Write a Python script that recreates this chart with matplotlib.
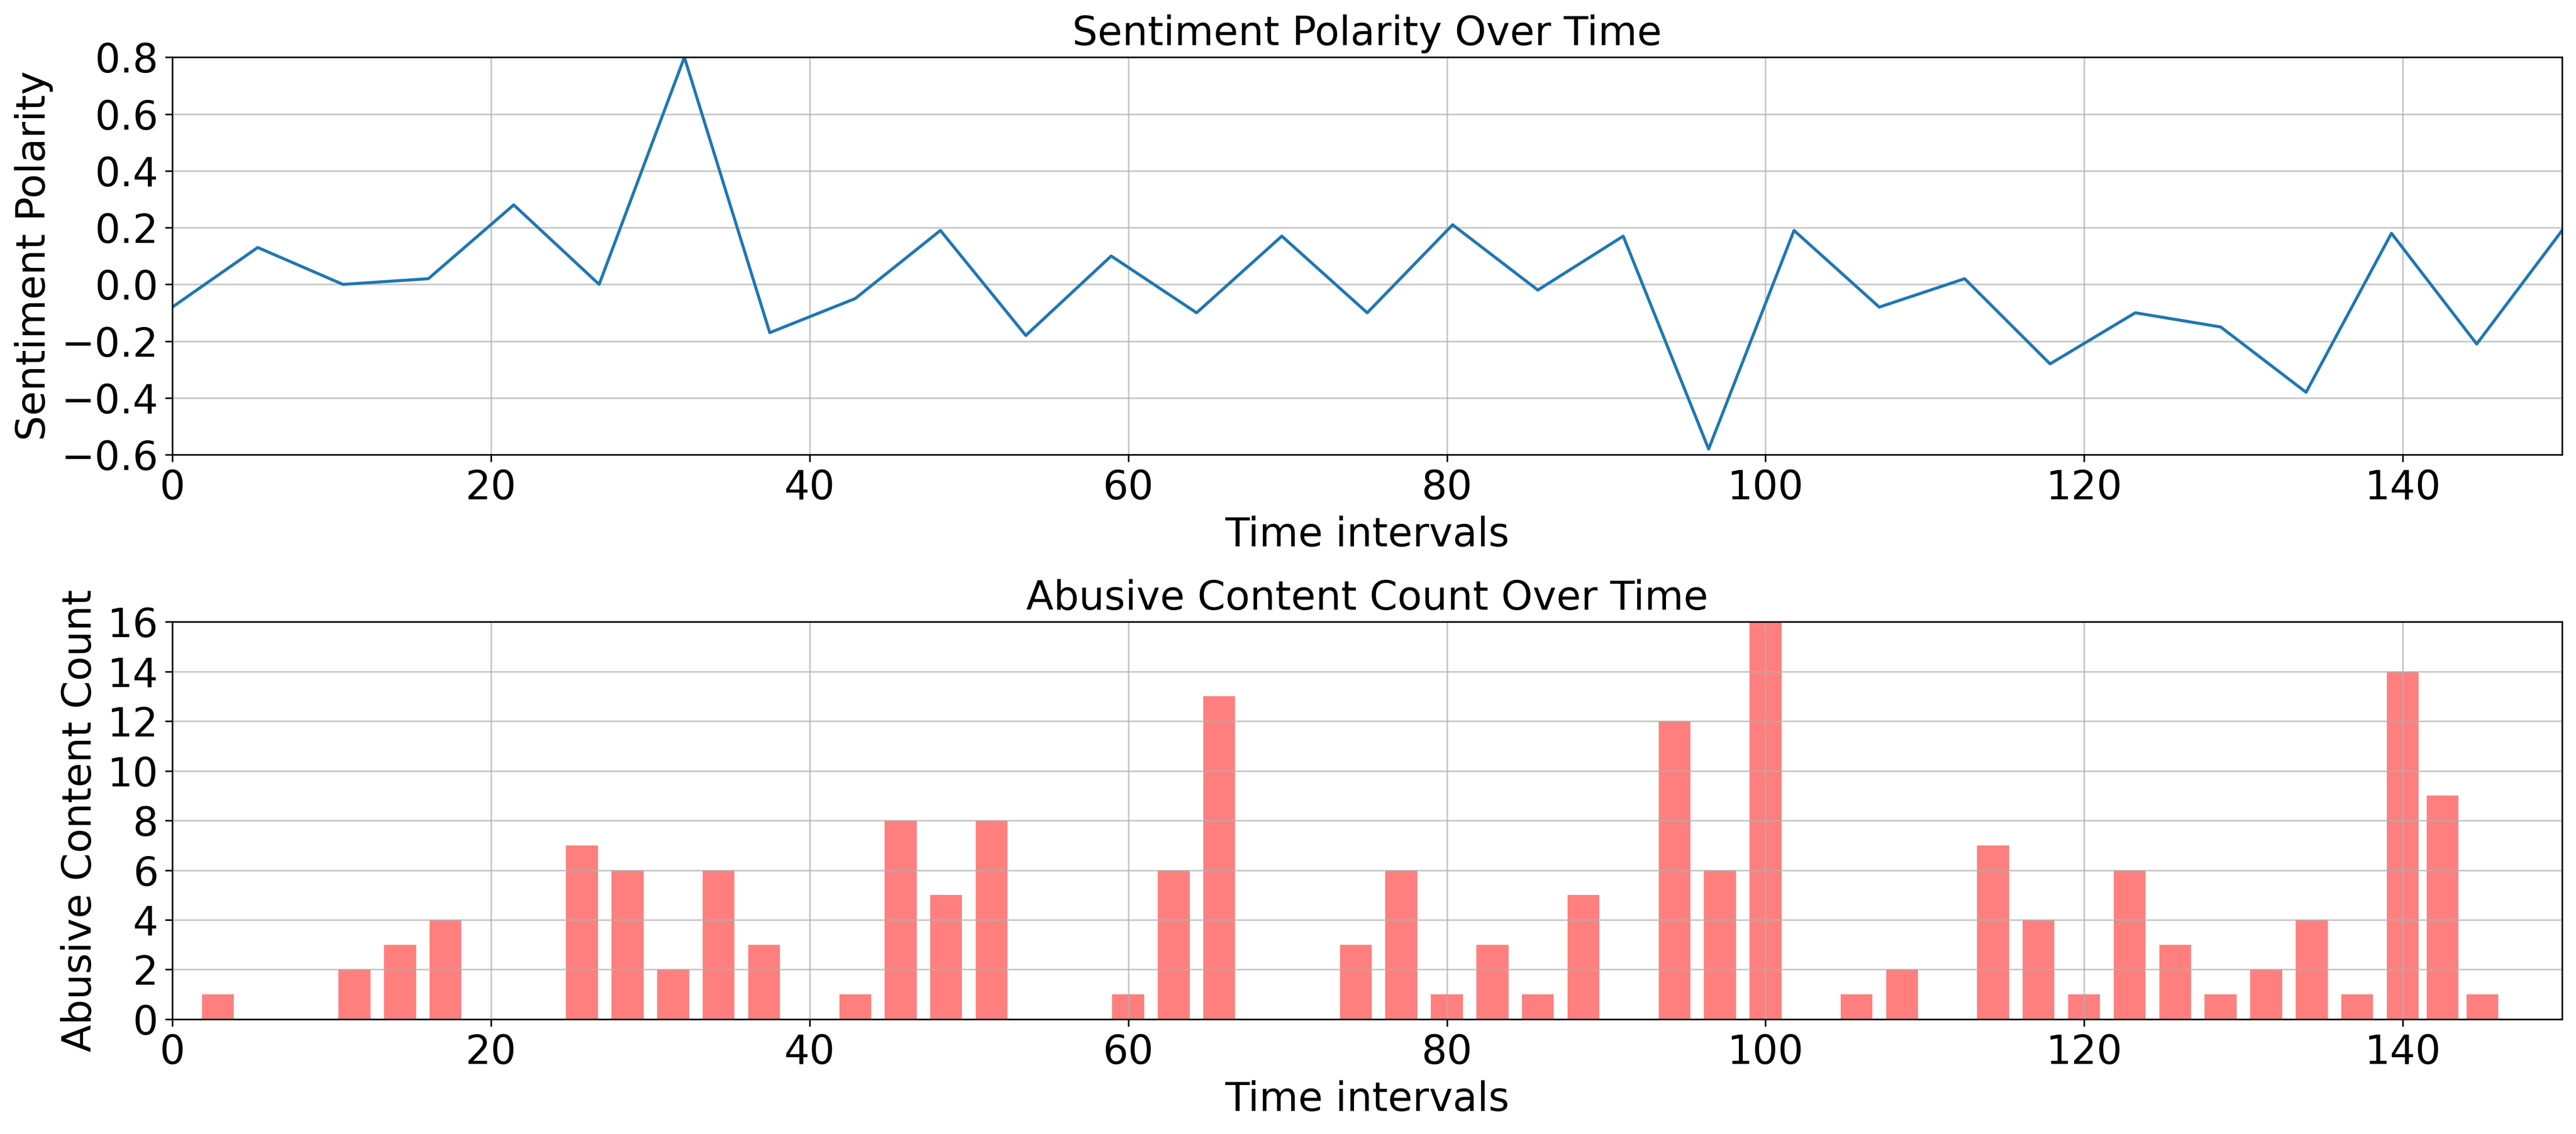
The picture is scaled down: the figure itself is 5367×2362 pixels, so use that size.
import matplotlib.pyplot as plt

# sentiment polarity series (top panel)
time_points = [0.0, 5.36, 10.71, 16.07, 21.43, 26.79, 32.14, 37.5, 42.86, 48.21,
               53.57, 58.93, 64.29, 69.64, 75.0, 80.36, 85.71, 91.07, 96.43, 101.79,
               107.14, 112.5, 117.86, 123.21, 128.57, 133.93, 139.29, 144.64, 150.0]
polarity = [-0.08, 0.13, 0.0, 0.02, 0.28, 0.0, 0.80, -0.17, -0.05, 0.19,
            -0.18, 0.10, -0.10, 0.17, -0.10, 0.21, -0.02, 0.17, -0.58, 0.19,
            -0.08, 0.02, -0.28, -0.10, -0.15, -0.38, 0.18, -0.21, 0.19]

# abusive content counts (bottom panel)
bar_times = [2.86, 11.43, 14.29, 17.14, 25.71, 28.57, 31.43, 34.29, 37.14, 42.86,
             45.71, 48.57, 51.43, 60.0, 62.86, 65.71, 74.29, 77.14, 80.0, 82.86,
             85.71, 88.57, 94.29, 97.14, 100.0, 105.71, 108.57, 114.29, 117.14, 120.0,
             122.86, 125.71, 128.57, 131.43, 134.29, 137.14, 140.0, 142.5, 145.0]
abusive_counts = [1, 2, 3, 4, 7, 6, 2, 6, 3, 1,
                  8, 5, 8, 1, 6, 13, 3, 6, 1, 3,
                  1, 5, 12, 6, 16, 1, 2, 7, 4, 1,
                  6, 3, 1, 2, 4, 1, 14, 9, 1]

plt.rcParams['font.size'] = 20

fig = plt.figure(figsize=(5367 / 300, 2362 / 300), dpi=300)
ax1 = fig.add_axes([0.0669, 0.599, 0.9277, 0.3505])
ax2 = fig.add_axes([0.0669, 0.1012, 0.9277, 0.3505])

# 1. linha de polaridade
ax1.plot(time_points, polarity, color='#1f77b4', linewidth=1.5)
ax1.set_title("Sentiment Polarity Over Time", fontsize=20)
ax1.set_xlabel("Time intervals", fontsize=20)
ax1.set_ylabel("Sentiment Polarity", fontsize=20)
ax1.set_xlim(0, 150)
ax1.set_ylim(-0.6, 0.8)
ax1.set_yticks([-0.6, -0.4, -0.2, 0.0, 0.2, 0.4, 0.6, 0.8])
ax1.grid(True, alpha=0.7)

# 2. barras de conteudo abusivo
ax2.bar(bar_times, abusive_counts, width=2.0, color='red', alpha=0.5)
ax2.set_title("Abusive Content Count Over Time", fontsize=20)
ax2.set_xlabel("Time intervals", fontsize=20)
ax2.set_ylabel("Abusive Content Count", fontsize=20)
ax2.set_xlim(0, 150)
ax2.set_ylim(0, 16)
ax2.set_yticks(range(0, 17, 2))
ax2.grid(True, alpha=0.7)

plt.savefig("out.png", dpi=300)
